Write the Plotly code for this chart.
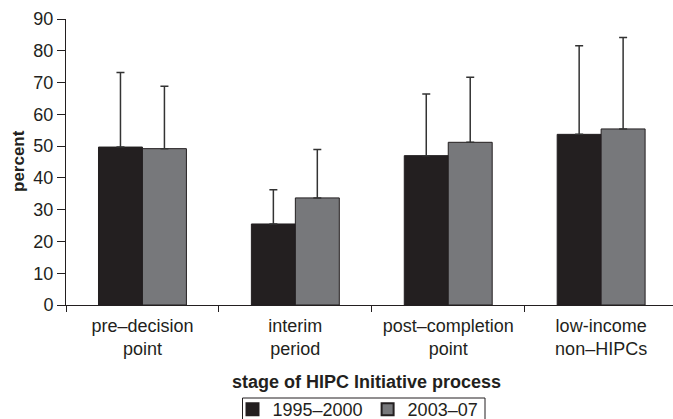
import plotly.graph_objects as go

categories = ["pre–decision<br>point", "interim<br>period", "post–completion<br>point", "low-income<br>non–HIPCs"]
series_names = ["1995–2000", "2003–07"]
values_1995 = [49.7, 25.5, 47.0, 53.7]
values_2003 = [49.2, 33.7, 51.2, 55.4]
err_top_1995 = [73.2, 36.3, 66.4, 81.6]
err_top_2003 = [68.8, 48.9, 71.7, 84.2]
y_ticks = [0, 10, 20, 30, 40, 50, 60, 70, 80, 90]

FONT = "Liberation Sans, Arial, Helvetica, sans-serif"
INK = "#231f20"
W, H = 673, 419
L, R, T, B = 66, 0, 19, 114
PW, PH = W - L - R, H - T - B


def px_x(px):
    return (px - L) / PW


def px_y(py):
    return (H - B - py) / PH


fig = go.Figure()
for name, vals, tops, color in [
    (series_names[0], values_1995, err_top_1995, "#231f20"),
    (series_names[1], values_2003, err_top_2003, "#77787b"),
]:
    fig.add_trace(go.Bar(
        x=categories, y=vals, name=name,
        marker=dict(color=color, line=dict(color=INK, width=1)),
        error_y=dict(type="data", symmetric=False,
                     array=[t - v for t, v in zip(tops, vals)],
                     arrayminus=[0] * len(vals),
                     color="#333333", thickness=1.5, width=4),
    ))

fig.update_layout(
    width=W, height=H,
    margin=dict(l=L, r=R, t=T, b=B, autoexpand=False),
    paper_bgcolor="white", plot_bgcolor="white",
    font=dict(family=FONT, size=18, color=INK),
    barmode="group", bargap=0.425, bargroupgap=0,
    showlegend=True,
    legend=dict(orientation="h", xref="container", yref="container",
                x=358 / W, xanchor="center", y=1 - 391 / H, yanchor="top",
                borderwidth=0, bgcolor="rgba(0,0,0,0)",
                font=dict(size=18, color=INK),
                tracegroupgap=0, itemsizing="constant"),
)
fig.update_xaxes(
    type="category", range=[-0.5, 3.47],
    showline=True, linecolor=INK, linewidth=1,
    ticks="outside", tickson="boundaries", ticklen=6, tickcolor=INK,
    ticklabelstandoff=4,
    showgrid=False, tickfont=dict(size=18, color=INK),
)
fig.update_yaxes(
    range=[0, 90], tickvals=y_ticks,
    showline=True, linecolor=INK, linewidth=1,
    ticks="outside", ticklen=8, tickcolor=INK,
    showgrid=False, zeroline=False, tickfont=dict(size=18, color=INK),
)
fig.add_annotation(text="<b>percent</b>", textangle=-90, xref="paper", yref="paper",
                   x=px_x(18), y=px_y(161), showarrow=False, xanchor="center", yanchor="middle",
                   font=dict(size=17, color=INK))
fig.add_annotation(text="<b>stage of HIPC Initiative process</b>", xref="paper", yref="paper",
                   x=px_x(366), y=px_y(382), showarrow=False, xanchor="center", yanchor="middle",
                   font=dict(size=18, color=INK))
fig.add_shape(type="rect", xref="paper", yref="paper",
              x0=px_x(242.5), x1=px_x(485), y0=px_y(398), y1=px_y(428),
              line=dict(color=INK, width=1), fillcolor="rgba(0,0,0,0)", layer="above")

fig.write_html("out.html", config={"displayModeBar": False},
               post_script="document.body.style.margin='0';")
